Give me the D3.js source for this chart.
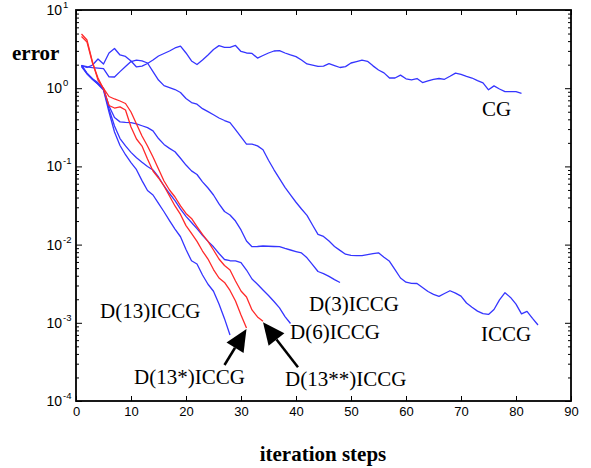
<!DOCTYPE html>
<html><head><meta charset="utf-8">
<script src="https://cdn.jsdelivr.net/npm/d3@7"></script>
<style>html,body{margin:0;padding:0;background:#fff}svg{display:block}</style>
</head><body>
<svg id="c" width="591" height="468"></svg>
<script>
// ---- data (error per iteration, iteration = index + 1) ----
const cg = [1.94,1.84,1.98,2.36,2.04,2.82,3.22,2.66,2.55,2.23,
  1.87,1.92,2.07,2.29,2.58,2.78,2.99,3.27,3.46,2.82,
  2.23,2.01,2.29,2.66,3.13,3.50,3.33,3.33,3.52,2.95,
  2.82,2.78,2.43,2.62,2.82,2.99,3.03,2.82,2.66,2.53,
  2.29,2.04,1.97,1.90,1.92,2.06,1.95,1.84,1.89,2.10,
  2.19,2.28,2.21,1.93,1.71,1.57,1.35,1.35,1.47,1.32,
  1.28,1.33,1.18,1.24,1.30,1.33,1.30,1.42,1.56,1.50,
  1.42,1.35,1.25,1.17,0.954,1.07,0.977,0.902,0.902,0.902,
  0.861];
const iccg = [1.94,1.88,1.83,1.81,1.78,1.40,1.39,1.63,1.89,2.19,
  2.29,2.23,2.10,1.63,1.27,1.08,1.02,0.962,0.881,0.738,
  0.656,0.624,0.547,0.501,0.457,0.416,0.386,0.363,0.295,0.238,
  0.193,0.193,0.183,0.163,0.120,0.0905,0.0696,0.0540,0.0433,0.0348,
  0.0285,0.0236,0.0178,0.0135,0.0127,0.0111,0.00948,0.00843,0.00754,0.00730,
  0.00721,0.00723,0.00745,0.00767,0.00786,0.00688,0.00612,0.00480,0.00374,0.00331,
  0.00320,0.00318,0.00283,0.00251,0.00231,0.00218,0.00237,0.00257,0.00240,0.00219,
  0.00179,0.00158,0.00141,0.00131,0.00128,0.00148,0.00196,0.00243,0.00211,0.00173,
  0.00130,0.00140,0.00114,0.000937];
const d3iccg = [1.94,1.54,1.32,1.17,0.991,0.592,0.421,0.371,0.366,0.363,
  0.350,0.331,0.313,0.285,0.227,0.191,0.170,0.154,0.127,0.104,
  0.0876,0.0788,0.0635,0.0529,0.0431,0.0331,0.0265,0.0239,0.0200,0.0154,
  0.0111,0.00940,0.00946,0.00960,0.00952,0.00946,0.00940,0.00892,0.00853,0.00816,
  0.00783,0.00678,0.00555,0.00453,0.00426,0.00393,0.00357,0.00328];
const d6iccg = [1.89,1.52,1.29,1.13,0.977,0.542,0.329,0.227,0.183,0.151,
  0.129,0.113,0.0997,0.0899,0.0732,0.0562,0.0450,0.0366,0.0285,0.0230,
  0.0192,0.0160,0.0131,0.0110,0.00937,0.00769,0.00645,0.00622,0.00621,0.00590,
  0.00473,0.00363,0.00311,0.00263,0.00223,0.00187,0.00155,0.00120,0.000979];
const d13iccg = [1.98,1.56,1.31,1.12,0.948,0.496,0.275,0.185,0.141,0.112,
  0.0908,0.0658,0.0492,0.0431,0.0336,0.0263,0.0203,0.0158,0.0126,0.00866,
  0.00621,0.00565,0.00409,0.00311,0.00253,0.00174,0.00113,0.000698];
const d13sIccg = [4.58,3.90,2.10,1.35,0.977,0.601,0.558,0.578,0.526,0.319,
  0.224,0.182,0.124,0.0873,0.0711,0.0562,0.0418,0.0312,0.0243,0.0175,
  0.0139,0.0110,0.00828,0.00654,0.00480,0.00374,0.00328,0.00259,0.00190,0.00126,
  0.000858];
const d13ssIccg = [4.93,4.13,2.16,1.27,0.997,0.783,0.728,0.686,0.637,0.496,
  0.348,0.245,0.182,0.132,0.0926,0.0651,0.0499,0.0406,0.0312,0.0250,
  0.0216,0.0170,0.0135,0.0110,0.00853,0.00654,0.00540,0.00473,0.00342,0.00255,
  0.00214,0.00146,0.00119,0.00105];

const xTicks = [0,10,20,30,40,50,60,70,80,90];
const yExponents = [1,0,-1,-2,-3,-4];
const xTitle = "iteration steps";
const yTitle = "error";

const series = [
  {name:"CG", values:cg, color:"#3535ff"},
  {name:"ICCG", values:iccg, color:"#3535ff"},
  {name:"D(3)ICCG", values:d3iccg, color:"#3535ff"},
  {name:"D(6)ICCG", values:d6iccg, color:"#3535ff"},
  {name:"D(13)ICCG", values:d13iccg, color:"#3535ff"},
  {name:"D(13*)ICCG", values:d13sIccg, color:"#ff2a2a"},
  {name:"D(13**)ICCG", values:d13ssIccg, color:"#ff2a2a"}
];

// ---- layout ----
const L = 76, R = 571, T = 10, B = 401;
const svg = d3.select("#c");
const x = d3.scaleLinear().domain([0,90]).range([L,R]);
const y = d3.scaleLog().domain([1e-4,10]).range([B,T]);

const majors = yExponents.map(e => Math.pow(10,e));
const minors = [];
for (let e=-4; e<1; e++) for (let k=2; k<=9; k++) minors.push(k*Math.pow(10,e));

// lines
const line = d3.line().x((d,i)=>x(i+1)).y(d=>y(d));
svg.append("g").selectAll("path").data(series).join("path")
  .attr("d", s => line(s.values))
  .attr("fill","none").attr("stroke", s=>s.color)
  .attr("stroke-width",1.3).attr("stroke-linejoin","round");

// axes
function styleAxis(g){ g.select(".domain").remove(); g.selectAll(".tick line").attr("stroke","#000").attr("stroke-width",1); }
svg.append("g").attr("transform",`translate(0,${B})`)
  .call(d3.axisBottom(x).tickValues(xTicks).tickSizeInner(-5).tickSizeOuter(0).tickPadding(6).tickFormat(d3.format("d")))
  .call(styleAxis)
  .call(g=>g.selectAll("text").attr("font-family","'Liberation Sans',Arial,sans-serif").attr("font-size",13).attr("fill","#000"));
svg.append("g").attr("transform",`translate(0,${T})`)
  .call(d3.axisTop(x).tickValues(xTicks).tickSizeInner(-5).tickSizeOuter(0).tickFormat(""))
  .call(styleAxis);
[[d3.axisLeft, L],[d3.axisRight, R]].forEach(([ax,pos])=>{
  svg.append("g").attr("transform",`translate(${pos},0)`)
    .call(ax(y).tickValues(majors).tickSizeInner(-6).tickSizeOuter(0).tickFormat(""))
    .call(styleAxis);
  svg.append("g").attr("transform",`translate(${pos},0)`)
    .call(ax(y).tickValues(minors).tickSizeInner(-3).tickSizeOuter(0).tickFormat(""))
    .call(styleAxis);
});

// y tick labels 10^e
const yl = svg.append("g").attr("font-family","'Liberation Sans',Arial,sans-serif").attr("fill","#000");
yExponents.forEach(e=>{
  const yy = y(Math.pow(10,e));
  yl.append("text").attr("x",62).attr("y",yy+5).attr("text-anchor","end").attr("font-size",14).text("10");
  yl.append("text").attr("x",63).attr("y",yy-2).attr("font-size",9.5).text(String(e).replace("-","-"));
});

// frame
svg.append("rect").attr("x",L).attr("y",T).attr("width",R-L).attr("height",B-T)
  .attr("fill","none").attr("stroke","#000").attr("stroke-width",1.8);

// series labels
const labels = [
  {t:"CG", x:482, y:116},
  {t:"ICCG", x:481, y:341},
  {t:"D(3)ICCG", x:309, y:311},
  {t:"D(6)ICCG", x:290, y:339},
  {t:"D(13)ICCG", x:100, y:318},
  {t:"D(13*)ICCG", x:134, y:384},
  {t:"D(13**)ICCG", x:285, y:386}
];
svg.append("g").attr("font-family","'Liberation Serif','Times New Roman',serif").attr("font-size",21).attr("fill","#000")
  .selectAll("text").data(labels).join("text").attr("x",d=>d.x).attr("y",d=>d.y).text(d=>d.t);

// axis titles
svg.append("text").attr("x",12).attr("y",60).attr("font-family","'Liberation Serif','Times New Roman',serif")
  .attr("font-weight","bold").attr("font-size",21).text(yTitle);
svg.append("text").attr("x",323).attr("y",461).attr("text-anchor","middle").attr("font-family","'Liberation Serif','Times New Roman',serif")
  .attr("font-weight","bold").attr("font-size",21).text(xTitle);

// arrows pointing to ends of the red curves
function arrow(tip, dx, dy){
  const len = Math.hypot(dx,dy), ux = -dx/len, uy = -dy/len; // direction tail->tip
  const hl = 22, hw = 10;
  const bx = tip[0]-ux*hl, by = tip[1]-uy*hl;
  svg.append("line").attr("x1",tip[0]+dx).attr("y1",tip[1]+dy).attr("x2",bx).attr("y2",by)
    .attr("stroke","#000").attr("stroke-width",2.5);
  svg.append("polygon").attr("points",[
    [tip[0],tip[1]],[bx-uy*hw, by+ux*hw],[bx+uy*hw, by-ux*hw]].map(p=>p.join(",")).join(" "))
    .attr("fill","#000");
}
arrow([x(d13sIccg.length), y(d13sIccg[d13sIccg.length-1])+1], -22, 36);
arrow([x(d13ssIccg.length), y(d13ssIccg[d13ssIccg.length-1])+1], 35, 45);
</script>
</body></html>
